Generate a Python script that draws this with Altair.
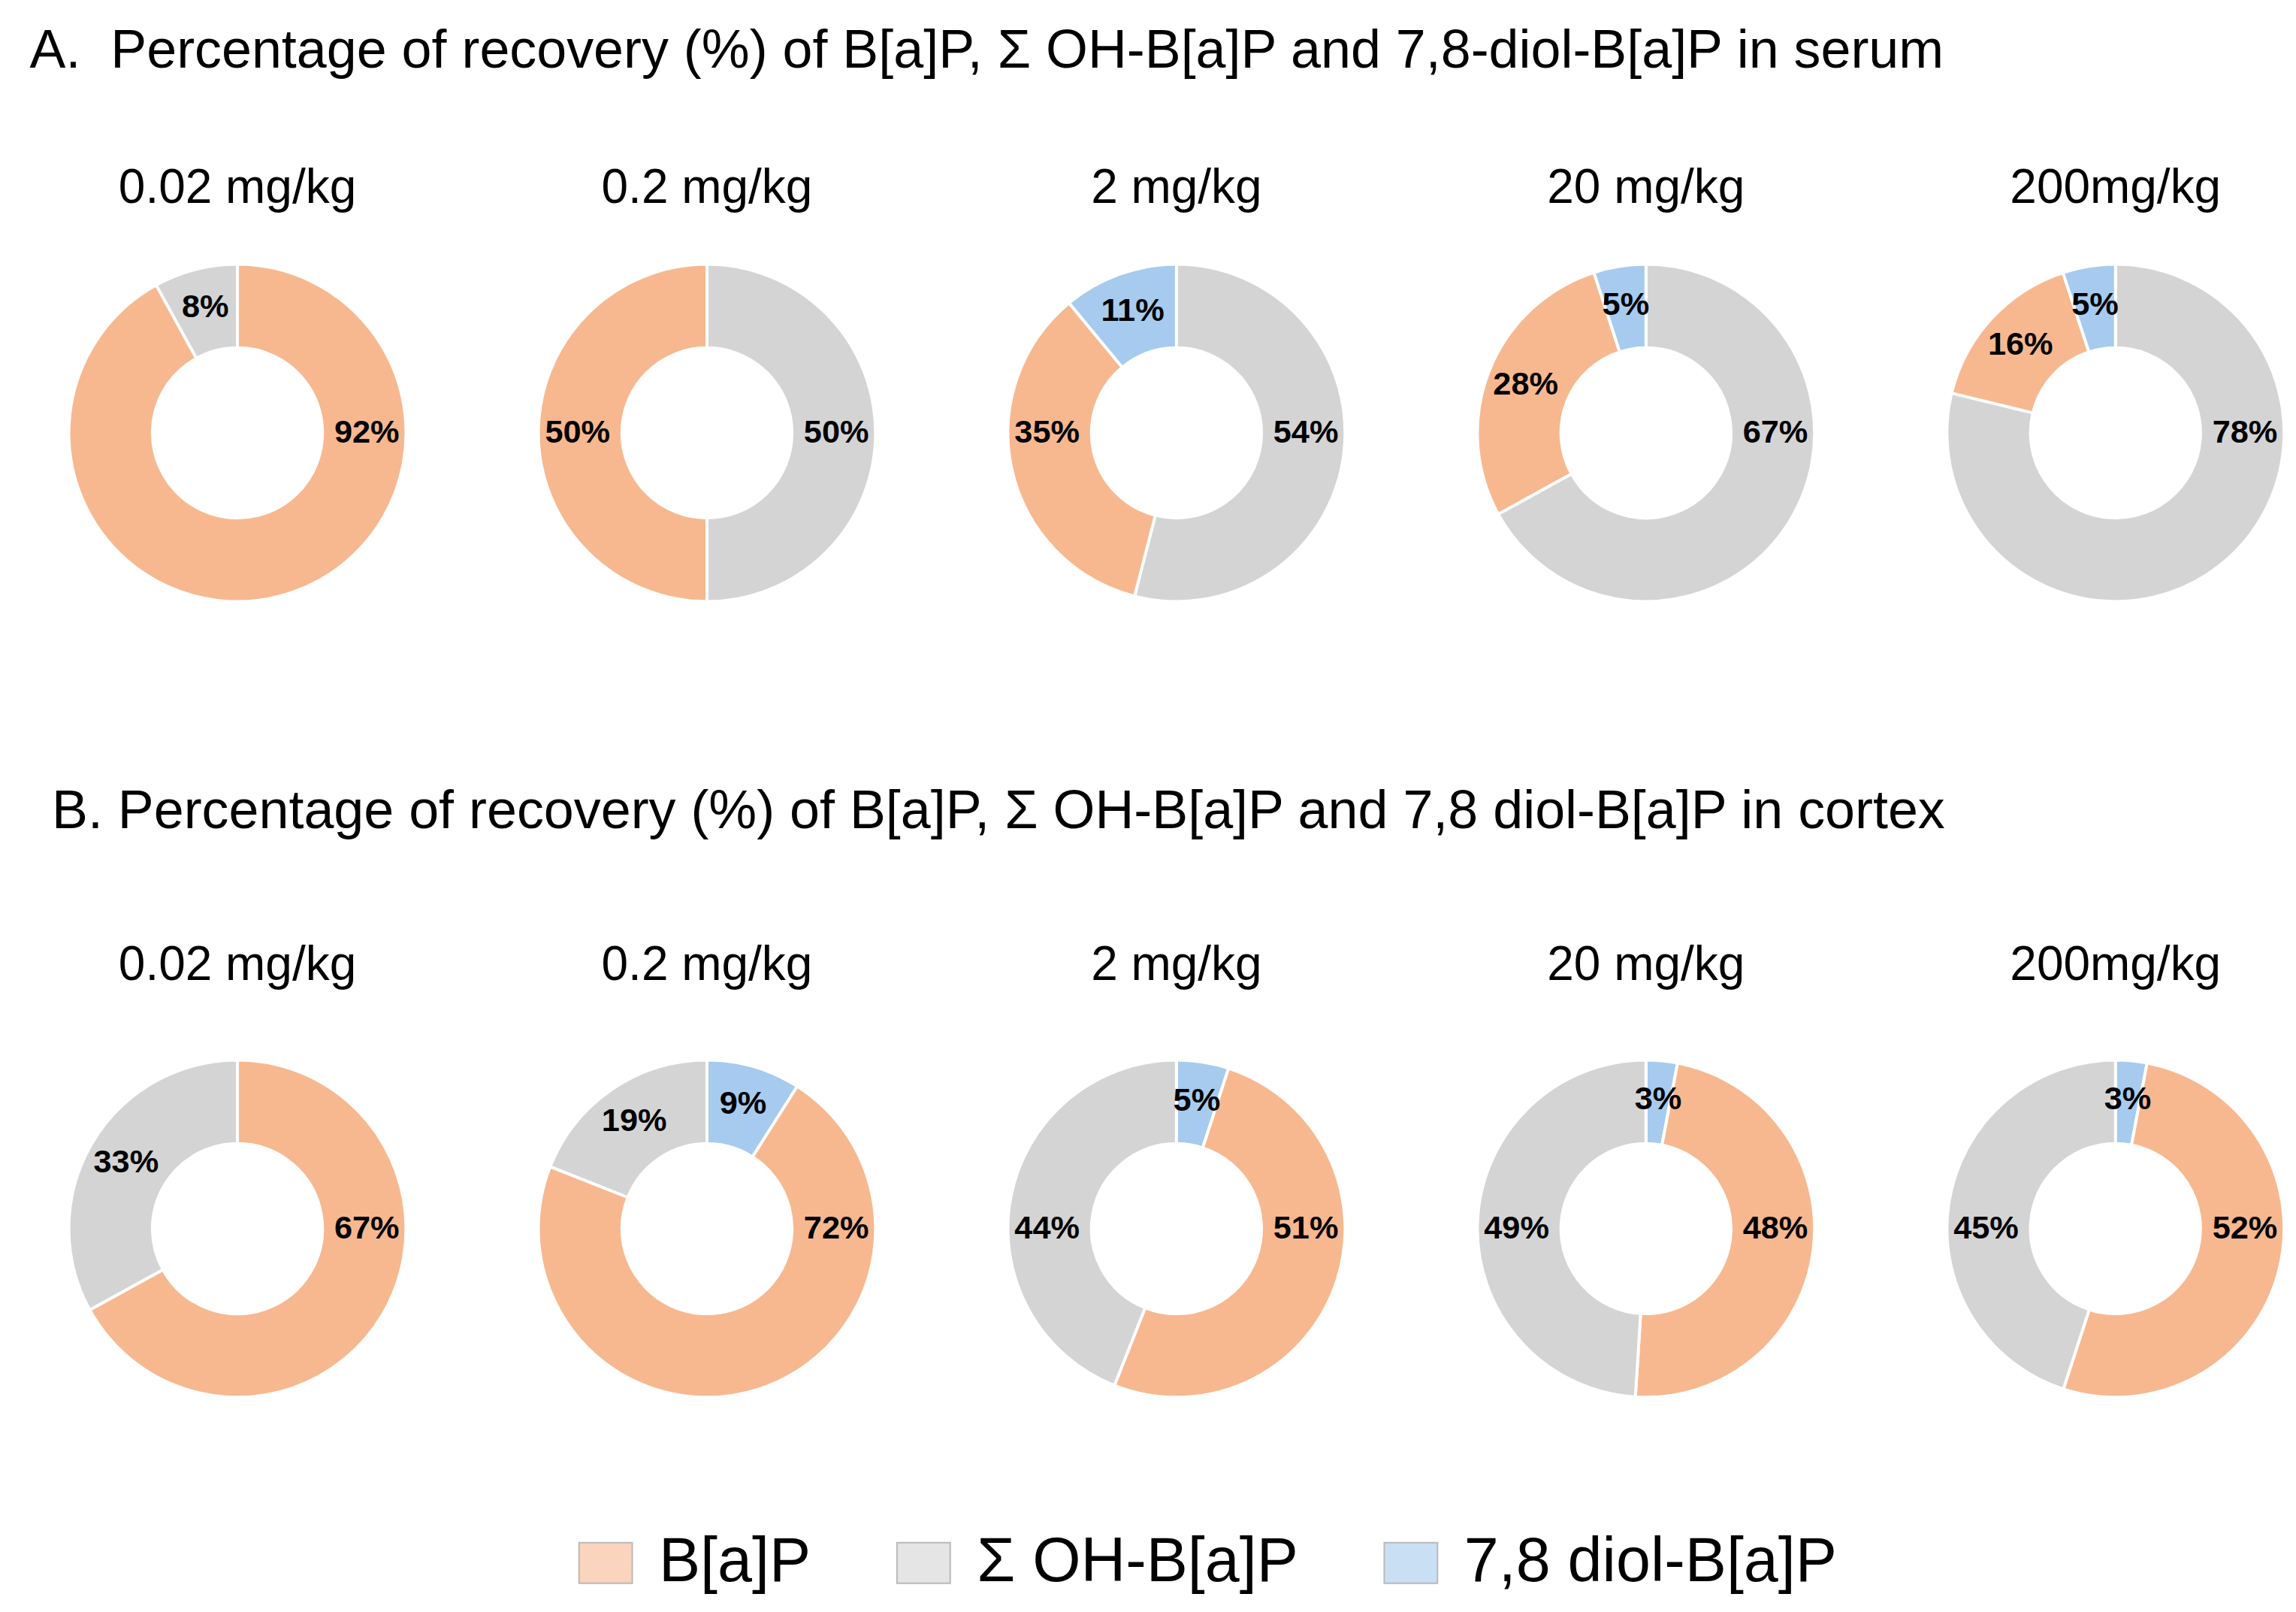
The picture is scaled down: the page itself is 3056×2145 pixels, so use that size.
import math
import altair as alt
import pandas as pd

# ---------------- data ----------------
doses = ["0.02 mg/kg", "0.2 mg/kg", "2 mg/kg", "20 mg/kg", "200mg/kg"]
components = ["B[a]P", "\u03a3 OH-B[a]P", "7,8 diol-B[a]P"]

# serum (%), one value per dose
serum_bap = [92, 50, 35, 28, 16]
serum_oh = [8, 50, 54, 67, 78]
serum_diol = [0, 0, 11, 5, 5]
# clockwise order of the slices, starting at 12 o'clock
serum_order = [
    ["B[a]P", "\u03a3 OH-B[a]P"],
    ["\u03a3 OH-B[a]P", "B[a]P"],
    ["\u03a3 OH-B[a]P", "B[a]P", "7,8 diol-B[a]P"],
    ["\u03a3 OH-B[a]P", "B[a]P", "7,8 diol-B[a]P"],
    ["\u03a3 OH-B[a]P", "B[a]P", "7,8 diol-B[a]P"],
]

# cortex (%)
cortex_bap = [67, 72, 51, 48, 52]
cortex_oh = [33, 19, 44, 49, 45]
cortex_diol = [0, 9, 5, 3, 3]
cortex_order = [
    ["B[a]P", "\u03a3 OH-B[a]P"],
    ["7,8 diol-B[a]P", "B[a]P", "\u03a3 OH-B[a]P"],
    ["7,8 diol-B[a]P", "B[a]P", "\u03a3 OH-B[a]P"],
    ["7,8 diol-B[a]P", "B[a]P", "\u03a3 OH-B[a]P"],
    ["7,8 diol-B[a]P", "B[a]P", "\u03a3 OH-B[a]P"],
]

title_a = "A.\u00a0 Percentage of recovery (%) of B[a]P, \u03a3 OH-B[a]P and 7,8-diol-B[a]P in serum"
title_b = "B. Percentage of recovery (%) of B[a]P, \u03a3 OH-B[a]P and 7,8 diol-B[a]P in cortex"

colors = ["#F7B890", "#D4D4D4", "#A6CBEE"]


def build_table(bap, oh, diol, order):
    rows = []
    for i, dose in enumerate(doses):
        vals = {components[0]: bap[i], components[1]: oh[i], components[2]: diol[i]}
        total = sum(vals.values())
        start = 0.0
        for k, comp in enumerate(order[i]):
            v = vals[comp]
            if v <= 0:
                continue
            end = start + 100.0 * v / total
            if start <= 25 <= end:
                lab = 25.0
            elif start <= 75 <= end and (end - start) >= 35:
                lab = 75.0
            else:
                lab = (start + end) / 2
            rows.append(dict(dose=dose, comp=comp, value=v, start=start,
                             end=end, lab=lab, order=k, text=f"{v}%"))
            start = end
    return pd.DataFrame(rows)


serum_df = build_table(serum_bap, serum_oh, serum_diol, serum_order)
cortex_df = build_table(cortex_bap, cortex_oh, cortex_diol, cortex_order)

FONT = "Liberation Sans, Arial, sans-serif"
LABFONT = "Liberation Sans Narrow, Arial Narrow, Liberation Sans, Arial, sans-serif"
theta_scale = alt.Scale(domain=[0, 100], range=[0, 2 * math.pi])
color_scale = alt.Scale(domain=components, range=colors)

CELL = 460


def panel(df, title, dx, label_pad, title_offset):
    arcs = alt.Chart().mark_arc(
        innerRadius=115, outerRadius=228, stroke="white", strokeWidth=4
    ).encode(
        theta=alt.Theta("start:Q", scale=theta_scale, stack=False),
        theta2="end:Q",
        color=alt.Color(
            "comp:N", scale=color_scale, title=None,
            legend=alt.Legend(
                orient="none", legendX=686, legendY=1716, direction="horizontal",
                columns=3, symbolType="M-1,-0.76L1,-0.76L1,0.76L-1,0.76Z",
                symbolSize=5184, symbolStrokeColor="#8C8C8C", symbolStrokeWidth=2,
                symbolOpacity=0.6, labelFontSize=84, labelFont=FONT,
                labelColor="black", labelOffset=30, columnPadding=110,
                labelLimit=1000,
            ),
        ),
        order="order:Q",
    )
    labels = alt.Chart().mark_text(
        radius=175, font=LABFONT, fontSize=44, fontWeight="bold", color="black",
        baseline="middle", align="center",
    ).encode(
        theta=alt.Theta("lab:Q", scale=theta_scale, stack=False),
        text="text:N",
    )
    return alt.layer(arcs, labels, data=df).properties(
        width=CELL, height=CELL
    ).facet(
        column=alt.Column(
            "dose:N", sort=doses, title=None,
            header=alt.Header(labelFontSize=65, labelFont=FONT, labelColor="black",
                              labelPadding=label_pad),
        ),
        spacing=163,
        title=alt.TitleParams(title, anchor="start", fontSize=73, font=FONT,
                              fontWeight="normal", color="black", dx=dx,
                              offset=title_offset),
    )


chart = alt.vconcat(
    panel(serum_df, title_a, -45, 61, 116),
    panel(cortex_df, title_b, -15, 86, 139),
    spacing=240,
).properties(
    padding={"left": 32, "top": 8, "right": 0, "bottom": 0},
    background="white",
).configure_view(stroke=None)

chart.save("out.html", embed_options={"renderer": "svg", "actions": False})
